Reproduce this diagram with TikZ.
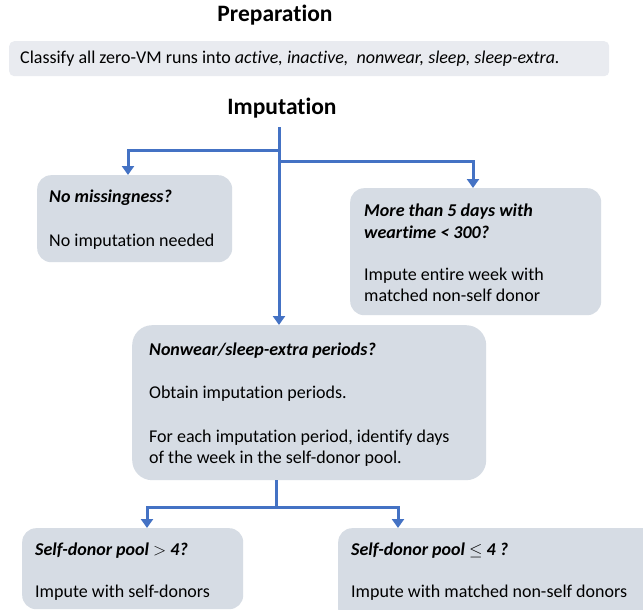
\documentclass[tikz,border=0pt]{standalone}
\usepackage{fontspec}
\setmainfont[Ligatures=NoCommon]{Carlito}
\usetikzlibrary{arrows.meta}
\definecolor{boxgray}{HTML}{D6DCE4}
\definecolor{prepgray}{HTML}{E9EBF0}
\definecolor{arrowblue}{HTML}{4472C4}
\begin{document}
\begin{tikzpicture}[x=1pt,y=-1pt,
  box/.style={draw=none,fill=boxgray,rounded corners=14pt,inner sep=0pt,anchor=north west},
  heading/.style={font=\fontsize{23.5}{27}\selectfont\bfseries,inner sep=0pt},
  txt/.style={font=\fontsize{18}{21}\selectfont,inner sep=0pt,anchor=base west},
  qtxt/.style={txt,font=\fontsize{18}{21}\selectfont\bfseries\itshape},
  conn/.style={draw=arrowblue,line width=3pt,-{Triangle[width=12pt,length=9pt]}},
  plainconn/.style={draw=arrowblue,line width=3pt}]
\useasboundingbox (0,0) rectangle (643,610);
\clip (0,0) rectangle (643,610);
\fill[white] (0,0) rectangle (643,610);

% Preparation
\node[heading] (prep) at (275,15) {Preparation};
\node[box,fill=prepgray,rounded corners=5pt,minimum width=600pt,minimum height=35pt] (prepbox) at (9,41) {};
\node[txt,font=\fontsize{18}{21}\selectfont] (preptxt) at (20,64) {Classify all zero-VM runs into \textit{active, inactive,\ \ nonwear, sleep, sleep-extra.}};

% Imputation
\node[heading] (imp) at (282,108) {Imputation};

% boxes
\node[box,minimum width=195pt,minimum height=87pt] (nomiss) at (37,175) {};
\node[qtxt] (nomissq) at (49,202) {No missingness?};
\node[txt] (nomisst) at (49,246) {No imputation needed};

\node[box,minimum width=251pt,minimum height=127pt] (more) at (350,188) {};
\node[qtxt] (moreq1) at (364,216) {More than 5 days with};
\node[qtxt] (moreq2) at (364,238) {weartime < 300?};
\node[txt] (moret1) at (364,280) {Impute entire week with};
\node[txt] (moret2) at (364,301) {matched non-self donor};

\node[box,rounded corners=20pt,minimum width=354pt,minimum height=155pt] (nonwear) at (132,325) {};
\node[qtxt] (nonwearq) at (149,355) {Nonwear/sleep-extra periods?};
\node[txt] (nonweart1) at (149,398) {Obtain imputation periods.};
\node[txt] (nonweart2) at (149,442) {For each imputation period, identify days};
\node[txt] (nonweart3) at (149,463) {of the week in the self-donor pool.};

\node[box,minimum width=221pt,minimum height=81pt] (selfgt) at (22,528) {};
\node[qtxt] (selfgtq) at (35,555) {Self-donor pool $>$ 4?};
\node[txt] (selfgtt) at (35,597) {Impute with self-donors};

\node[box,minimum width=320pt,minimum height=95pt] (selfle) at (338,528) {};
\node[qtxt] (selfleq) at (351,555) {Self-donor pool $\leq$ 4 ?};
\node[txt] (selflet) at (351,597) {Impute with matched non-self donors};

% connectors
\coordinate (ctop) at (279,127);
\coordinate (lbranch) at (279,150);
\coordinate (rbranch) at (279,161);
\coordinate (lcorner) at (128,150);
\coordinate (rcorner) at (473,161);
\draw[conn] (ctop) -- (ctop|-nonwear.north);
\draw[conn] (lbranch) -- (lcorner) -- (lcorner|-nomiss.north);
\draw[conn] (rbranch) -- (rcorner) -- (rcorner|-more.north);

\coordinate (bsplit) at (276,507);
\coordinate (blcorner) at (147,507);
\coordinate (brcorner) at (398,507);
\draw[plainconn] (bsplit|-nonwear.south) -- (bsplit);
\draw[conn] (bsplit) -- (blcorner) -- (blcorner|-selfgt.north);
\draw[conn] (bsplit) -- (brcorner) -- (brcorner|-selfle.north);
\end{tikzpicture}
\end{document}
